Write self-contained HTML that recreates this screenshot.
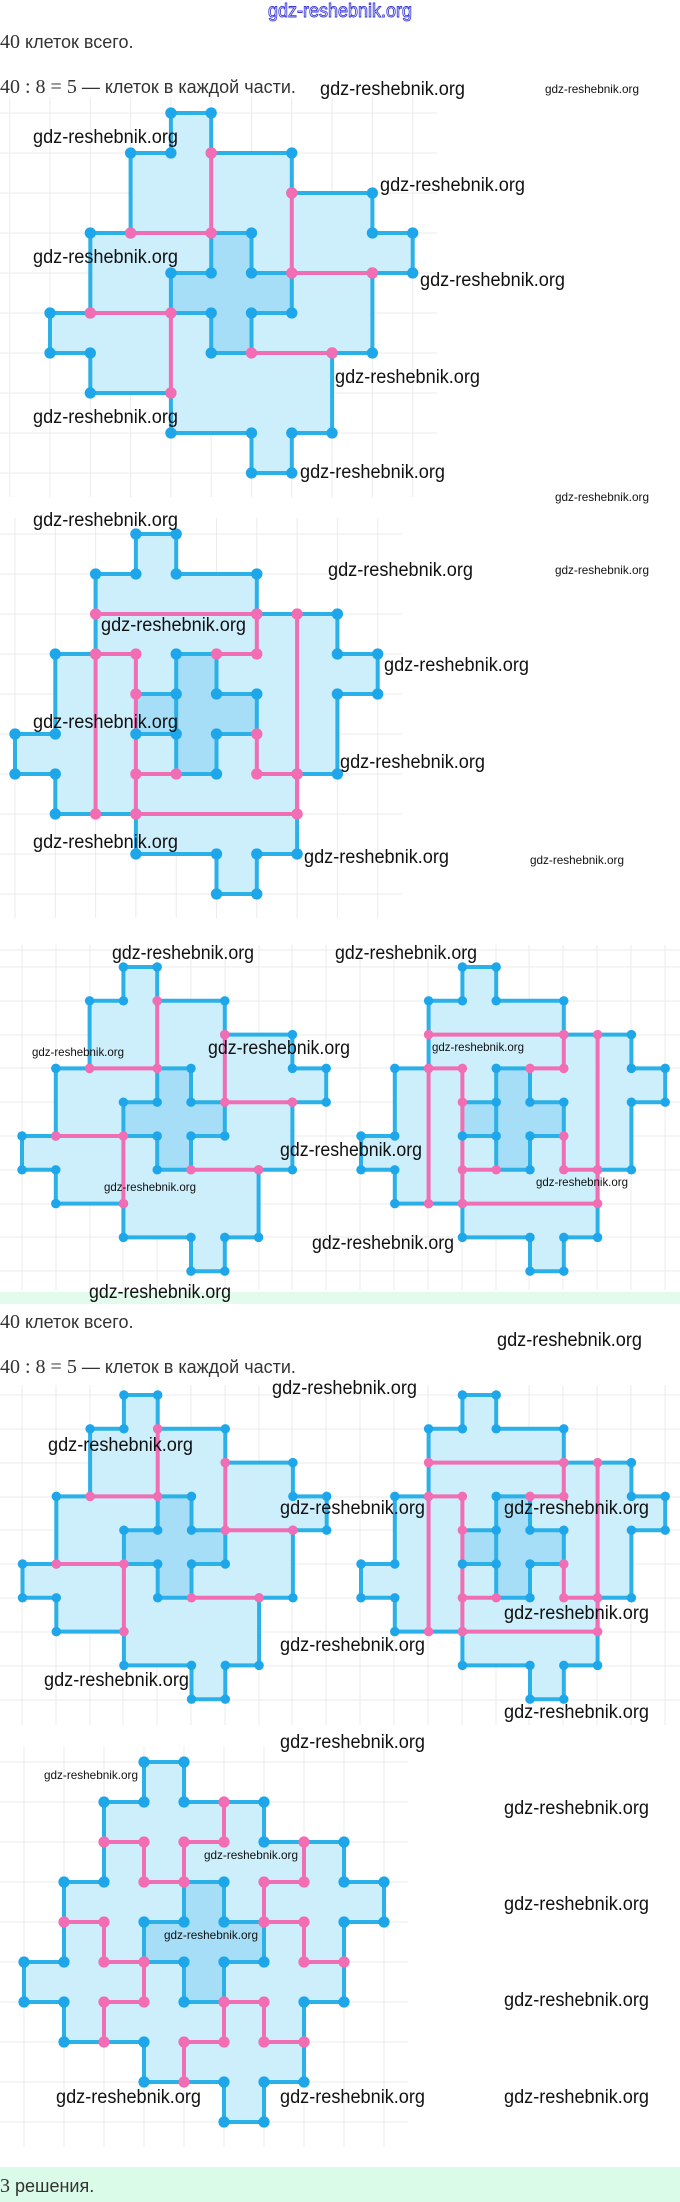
<!DOCTYPE html>
<html><head><meta charset="utf-8"><style>
html,body{margin:0;padding:0;background:#fff;}
svg{display:block;}
.t{font-family:"Liberation Sans",sans-serif;font-size:18px;fill:#333;}
.m{font-family:"Liberation Serif",serif;font-size:20px;fill:#333;}
.w{font-family:"Liberation Sans Narrow","Liberation Sans",sans-serif;font-size:19px;fill:#111;}
.ws{font-family:"Liberation Sans Narrow","Liberation Sans",sans-serif;font-size:12px;fill:#111;}
.g{fill:none;stroke:#ebebeb;stroke-width:1;vector-effect:non-scaling-stroke;}
.ol{fill:#cdeefb;stroke:#2bb0e8;stroke-width:4;vector-effect:non-scaling-stroke;stroke-linejoin:round;}
.dk{fill:#a5def6;stroke:none;}
.bl{fill:none;stroke:#2bb0e8;stroke-width:4;vector-effect:non-scaling-stroke;stroke-linejoin:round;}
.pk{fill:none;stroke:#f06eb4;stroke-width:4;vector-effect:non-scaling-stroke;stroke-linejoin:round;}
.bd{fill:#1ea6ea;}
.pd{fill:#f26db3;}
</style></head><body>
<svg width="680" height="2202" viewBox="0 0 680 2202" xmlns="http://www.w3.org/2000/svg">
<defs>
<path id="grid" class="g" d="M-1 -0.4V9.6M0 -0.4V9.6M1 -0.4V9.6M2 -0.4V9.6M3 -0.4V9.6M4 -0.4V9.6M5 -0.4V9.6M6 -0.4V9.6M7 -0.4V9.6M8 -0.4V9.6M9 -0.4V9.6M-1.3 0H9.6M-1.3 1H9.6M-1.3 2H9.6M-1.3 3H9.6M-1.3 4H9.6M-1.3 5H9.6M-1.3 6H9.6M-1.3 7H9.6M-1.3 8H9.6M-1.3 9H9.6"/>
<g id="base">
<path class="ol" d="M3 0H4V1H6V2H8V3H9V4H8V6H7V8H6V9H5V8H3V7H1V6H0V5H1V3H2V1H3Z"/>
<path class="dk" d="M4 3H5V4H6V5H5V6H4V5H3V4H4Z"/>
</g>
<g id="odots" class="bd">
<circle cx="3" cy="0" r="0.14"/><circle cx="4" cy="0" r="0.14"/><circle cx="4" cy="1" r="0.14"/><circle cx="6" cy="1" r="0.14"/><circle cx="6" cy="2" r="0.14"/><circle cx="8" cy="2" r="0.14"/><circle cx="8" cy="3" r="0.14"/><circle cx="9" cy="3" r="0.14"/><circle cx="9" cy="4" r="0.14"/><circle cx="8" cy="4" r="0.14"/><circle cx="8" cy="6" r="0.14"/><circle cx="7" cy="6" r="0.14"/><circle cx="7" cy="8" r="0.14"/><circle cx="6" cy="8" r="0.14"/><circle cx="6" cy="9" r="0.14"/><circle cx="5" cy="9" r="0.14"/><circle cx="5" cy="8" r="0.14"/><circle cx="3" cy="8" r="0.14"/><circle cx="3" cy="7" r="0.14"/><circle cx="1" cy="7" r="0.14"/><circle cx="1" cy="6" r="0.14"/><circle cx="0" cy="6" r="0.14"/><circle cx="0" cy="5" r="0.14"/><circle cx="1" cy="5" r="0.14"/><circle cx="1" cy="3" r="0.14"/><circle cx="2" cy="3" r="0.14"/><circle cx="2" cy="1" r="0.14"/><circle cx="3" cy="1" r="0.14"/>
</g>
<g id="figA">
<use href="#base"/>
<path class="bl" d="M4 3H5V4H6M4 3V4H3V5M6 4V5H5V6M3 5H4V6H5"/>
<path class="pk" d="M4 1V3M2 3H4M6 2V4M6 4H8M1 5H3M5 6H7M3 5V7"/>
<use href="#odots"/>
<g class="bd"><circle cx="5" cy="3" r="0.14"/><circle cx="5" cy="4" r="0.14"/><circle cx="4" cy="4" r="0.14"/><circle cx="3" cy="4" r="0.14"/><circle cx="6" cy="5" r="0.14"/><circle cx="5" cy="5" r="0.14"/><circle cx="4" cy="5" r="0.14"/><circle cx="4" cy="6" r="0.14"/></g>
<g class="pd"><circle cx="4" cy="1" r="0.14"/><circle cx="4" cy="3" r="0.14"/><circle cx="2" cy="3" r="0.14"/><circle cx="6" cy="2" r="0.14"/><circle cx="6" cy="4" r="0.14"/><circle cx="8" cy="4" r="0.14"/><circle cx="1" cy="5" r="0.14"/><circle cx="3" cy="5" r="0.14"/><circle cx="5" cy="6" r="0.14"/><circle cx="7" cy="6" r="0.14"/><circle cx="3" cy="7" r="0.14"/></g>
</g>
<g id="figB">
<use href="#base"/>
<path class="bl" d="M4 3H5M4 3V4H3M5 3V4H6V5M3 5H4M4 4V6H5V5H6"/>
<path class="pk" d="M2 2H6M6 2V3H5M2 3H3M2 3V7M3 3V7M3 6H4M6 5V6H7M7 2V7M3 7H7"/>
<use href="#odots"/>
<g class="bd"><circle cx="4" cy="3" r="0.14"/><circle cx="4" cy="4" r="0.14"/><circle cx="5" cy="4" r="0.14"/><circle cx="6" cy="4" r="0.14"/><circle cx="4" cy="5" r="0.14"/><circle cx="5" cy="5" r="0.14"/><circle cx="5" cy="6" r="0.14"/><circle cx="3" cy="5" r="0.14"/></g>
<g class="pd"><circle cx="2" cy="2" r="0.14"/><circle cx="6" cy="2" r="0.14"/><circle cx="7" cy="2" r="0.14"/><circle cx="6" cy="3" r="0.14"/><circle cx="5" cy="3" r="0.14"/><circle cx="2" cy="3" r="0.14"/><circle cx="3" cy="3" r="0.14"/><circle cx="3" cy="4" r="0.14"/><circle cx="3" cy="6" r="0.14"/><circle cx="4" cy="6" r="0.14"/><circle cx="6" cy="5" r="0.14"/><circle cx="6" cy="6" r="0.14"/><circle cx="7" cy="6" r="0.14"/><circle cx="2" cy="7" r="0.14"/><circle cx="3" cy="7" r="0.14"/><circle cx="7" cy="7" r="0.14"/></g>
</g>
<g id="figC">
<use href="#base"/>
<path class="bl" d="M4 3H5V4H6M4 3V4H3V5M6 4V5H5V6M3 5H4V6H5"/>
<path class="pk" d="M5 1V2H4V3M2 2H3V3H4M7 2V3H6V4H7V5H8M1 4H2V5H3M3 5V6H2V7M5 6H6V7H7M5 6V7H4V8"/>
<use href="#odots"/>
<g class="bd"><circle cx="5" cy="3" r="0.14"/><circle cx="5" cy="4" r="0.14"/><circle cx="4" cy="4" r="0.14"/><circle cx="3" cy="4" r="0.14"/><circle cx="6" cy="5" r="0.14"/><circle cx="5" cy="5" r="0.14"/><circle cx="4" cy="5" r="0.14"/><circle cx="4" cy="6" r="0.14"/></g>
<g class="pd"><circle cx="5" cy="1" r="0.14"/><circle cx="5" cy="2" r="0.14"/><circle cx="4" cy="2" r="0.14"/><circle cx="4" cy="3" r="0.14"/><circle cx="2" cy="2" r="0.14"/><circle cx="3" cy="2" r="0.14"/><circle cx="3" cy="3" r="0.14"/><circle cx="7" cy="2" r="0.14"/><circle cx="7" cy="3" r="0.14"/><circle cx="6" cy="3" r="0.14"/><circle cx="6" cy="4" r="0.14"/><circle cx="7" cy="4" r="0.14"/><circle cx="7" cy="5" r="0.14"/><circle cx="8" cy="5" r="0.14"/><circle cx="1" cy="4" r="0.14"/><circle cx="2" cy="4" r="0.14"/><circle cx="2" cy="5" r="0.14"/><circle cx="3" cy="5" r="0.14"/><circle cx="3" cy="6" r="0.14"/><circle cx="2" cy="6" r="0.14"/><circle cx="2" cy="7" r="0.14"/><circle cx="5" cy="6" r="0.14"/><circle cx="6" cy="6" r="0.14"/><circle cx="6" cy="7" r="0.14"/><circle cx="7" cy="7" r="0.14"/><circle cx="5" cy="7" r="0.14"/><circle cx="4" cy="7" r="0.14"/><circle cx="4" cy="8" r="0.14"/></g>
</g>
</defs>

<text x="268" y="17" font-family="Liberation Sans Narrow, Liberation Sans, sans-serif" font-size="19" fill="#fff" stroke="#3a3ad8" stroke-width="0.9" textLength="144" lengthAdjust="spacingAndGlyphs">gdz-reshebnik.org</text>

<text x="0" y="48"><tspan class="m">40</tspan><tspan class="t"> клеток всего.</tspan></text>
<text x="0" y="93"><tspan class="m">40 : 8 = 5</tspan><tspan class="t"> — клеток в каждой части.</tspan></text>

<g transform="translate(50,113) scale(40.3,40)"><use href="#grid"/><use href="#figA"/></g>
<g transform="translate(15,534) scale(40.3,40)"><use href="#grid"/><use href="#figB"/></g>

<path class="g" d="M0 950H680M0 967H680M0 1001H680M0 1035H680M0 1068H680M0 1102H680M0 1136H680M0 1170H680M0 1204H680M0 1237H680M0 1271H680M22 945V1290M56 945V1290M90 945V1290M123 945V1290M157 945V1290M191 945V1290M225 945V1290M259 945V1290M292 945V1290M326 945V1290M360 945V1290M394 945V1290M428 945V1290M462 945V1290M496 945V1290M529 945V1290M563 945V1290M597 945V1290M631 945V1290M665 945V1290"/>
<g transform="translate(22,967) scale(33.8)"><use href="#figA"/></g>
<g transform="translate(361,967) scale(33.8)"><use href="#figB"/></g>

<rect x="0" y="1292" width="680" height="12" fill="#e3fbec"/>

<text x="0" y="1328"><tspan class="m">40</tspan><tspan class="t"> клеток всего.</tspan></text>
<text x="0" y="1373"><tspan class="m">40 : 8 = 5</tspan><tspan class="t"> — клеток в каждой части.</tspan></text>

<path class="g" d="M0 1395H680M0 1429H680M0 1463H680M0 1497H680M0 1530H680M0 1564H680M0 1598H680M0 1632H680M0 1666H680M0 1700H680M22 1385V1725M56 1385V1725M90 1385V1725M123 1385V1725M157 1385V1725M191 1385V1725M225 1385V1725M259 1385V1725M292 1385V1725M326 1385V1725M360 1385V1725M394 1385V1725M428 1385V1725M462 1385V1725M496 1385V1725M529 1385V1725M563 1385V1725M597 1385V1725M631 1385V1725M665 1385V1725"/>
<g transform="translate(22.5,1395) scale(33.8)"><use href="#figA"/></g>
<g transform="translate(361,1395) scale(33.8)"><use href="#figB"/></g>

<g transform="translate(24,1762) scale(40,40)"><use href="#grid"/><use href="#figC"/></g>

<rect x="0" y="2167" width="680" height="35" fill="#dbfbe9"/>
<text x="0" y="2192"><tspan class="m">3</tspan><tspan class="t"> решения.</tspan></text>

<g>
<text class="w" x="320" y="95" textLength="145" lengthAdjust="spacingAndGlyphs">gdz-reshebnik.org</text>
<text class="ws" x="545" y="93" textLength="94" lengthAdjust="spacingAndGlyphs">gdz-reshebnik.org</text>
<text class="w" x="33" y="143" textLength="145" lengthAdjust="spacingAndGlyphs">gdz-reshebnik.org</text>
<text class="w" x="380" y="191" textLength="145" lengthAdjust="spacingAndGlyphs">gdz-reshebnik.org</text>
<text class="w" x="33" y="263" textLength="145" lengthAdjust="spacingAndGlyphs">gdz-reshebnik.org</text>
<text class="w" x="420" y="286" textLength="145" lengthAdjust="spacingAndGlyphs">gdz-reshebnik.org</text>
<text class="w" x="335" y="383" textLength="145" lengthAdjust="spacingAndGlyphs">gdz-reshebnik.org</text>
<text class="w" x="33" y="423" textLength="145" lengthAdjust="spacingAndGlyphs">gdz-reshebnik.org</text>
<text class="w" x="300" y="478" textLength="145" lengthAdjust="spacingAndGlyphs">gdz-reshebnik.org</text>
<text class="ws" x="555" y="501" textLength="94" lengthAdjust="spacingAndGlyphs">gdz-reshebnik.org</text>
<text class="w" x="33" y="526" textLength="145" lengthAdjust="spacingAndGlyphs">gdz-reshebnik.org</text>
<text class="w" x="328" y="576" textLength="145" lengthAdjust="spacingAndGlyphs">gdz-reshebnik.org</text>
<text class="ws" x="555" y="574" textLength="94" lengthAdjust="spacingAndGlyphs">gdz-reshebnik.org</text>
<text class="w" x="101" y="631" textLength="145" lengthAdjust="spacingAndGlyphs">gdz-reshebnik.org</text>
<text class="w" x="384" y="671" textLength="145" lengthAdjust="spacingAndGlyphs">gdz-reshebnik.org</text>
<text class="w" x="33" y="728" textLength="145" lengthAdjust="spacingAndGlyphs">gdz-reshebnik.org</text>
<text class="w" x="340" y="768" textLength="145" lengthAdjust="spacingAndGlyphs">gdz-reshebnik.org</text>
<text class="w" x="33" y="848" textLength="145" lengthAdjust="spacingAndGlyphs">gdz-reshebnik.org</text>
<text class="w" x="304" y="863" textLength="145" lengthAdjust="spacingAndGlyphs">gdz-reshebnik.org</text>
<text class="ws" x="530" y="864" textLength="94" lengthAdjust="spacingAndGlyphs">gdz-reshebnik.org</text>
<text class="w" x="112" y="959" textLength="142" lengthAdjust="spacingAndGlyphs">gdz-reshebnik.org</text>
<text class="w" x="335" y="959" textLength="142" lengthAdjust="spacingAndGlyphs">gdz-reshebnik.org</text>
<text class="ws" x="32" y="1056" textLength="92" lengthAdjust="spacingAndGlyphs">gdz-reshebnik.org</text>
<text class="w" x="208" y="1054" textLength="142" lengthAdjust="spacingAndGlyphs">gdz-reshebnik.org</text>
<text class="ws" x="432" y="1051" textLength="92" lengthAdjust="spacingAndGlyphs">gdz-reshebnik.org</text>
<text class="w" x="280" y="1156" textLength="142" lengthAdjust="spacingAndGlyphs">gdz-reshebnik.org</text>
<text class="ws" x="104" y="1191" textLength="92" lengthAdjust="spacingAndGlyphs">gdz-reshebnik.org</text>
<text class="ws" x="536" y="1186" textLength="92" lengthAdjust="spacingAndGlyphs">gdz-reshebnik.org</text>
<text class="w" x="312" y="1249" textLength="142" lengthAdjust="spacingAndGlyphs">gdz-reshebnik.org</text>
<text class="w" x="89" y="1298" textLength="142" lengthAdjust="spacingAndGlyphs">gdz-reshebnik.org</text>
<text class="w" x="497" y="1346" textLength="145" lengthAdjust="spacingAndGlyphs">gdz-reshebnik.org</text>
<text class="w" x="272" y="1394" textLength="145" lengthAdjust="spacingAndGlyphs">gdz-reshebnik.org</text>
<text class="w" x="48" y="1451" textLength="145" lengthAdjust="spacingAndGlyphs">gdz-reshebnik.org</text>
<text class="w" x="280" y="1514" textLength="145" lengthAdjust="spacingAndGlyphs">gdz-reshebnik.org</text>
<text class="w" x="504" y="1514" textLength="145" lengthAdjust="spacingAndGlyphs">gdz-reshebnik.org</text>
<text class="w" x="504" y="1619" textLength="145" lengthAdjust="spacingAndGlyphs">gdz-reshebnik.org</text>
<text class="w" x="280" y="1651" textLength="145" lengthAdjust="spacingAndGlyphs">gdz-reshebnik.org</text>
<text class="w" x="44" y="1686" textLength="145" lengthAdjust="spacingAndGlyphs">gdz-reshebnik.org</text>
<text class="w" x="504" y="1718" textLength="145" lengthAdjust="spacingAndGlyphs">gdz-reshebnik.org</text>
<text class="w" x="280" y="1748" textLength="145" lengthAdjust="spacingAndGlyphs">gdz-reshebnik.org</text>
<text class="ws" x="44" y="1779" textLength="94" lengthAdjust="spacingAndGlyphs">gdz-reshebnik.org</text>
<text class="w" x="504" y="1814" textLength="145" lengthAdjust="spacingAndGlyphs">gdz-reshebnik.org</text>
<text class="ws" x="204" y="1859" textLength="94" lengthAdjust="spacingAndGlyphs">gdz-reshebnik.org</text>
<text class="w" x="504" y="1910" textLength="145" lengthAdjust="spacingAndGlyphs">gdz-reshebnik.org</text>
<text class="ws" x="164" y="1939" textLength="94" lengthAdjust="spacingAndGlyphs">gdz-reshebnik.org</text>
<text class="w" x="504" y="2006" textLength="145" lengthAdjust="spacingAndGlyphs">gdz-reshebnik.org</text>
<text class="w" x="56" y="2103" textLength="145" lengthAdjust="spacingAndGlyphs">gdz-reshebnik.org</text>
<text class="w" x="280" y="2103" textLength="145" lengthAdjust="spacingAndGlyphs">gdz-reshebnik.org</text>
<text class="w" x="504" y="2103" textLength="145" lengthAdjust="spacingAndGlyphs">gdz-reshebnik.org</text>
</g>
</svg>
</body></html>
